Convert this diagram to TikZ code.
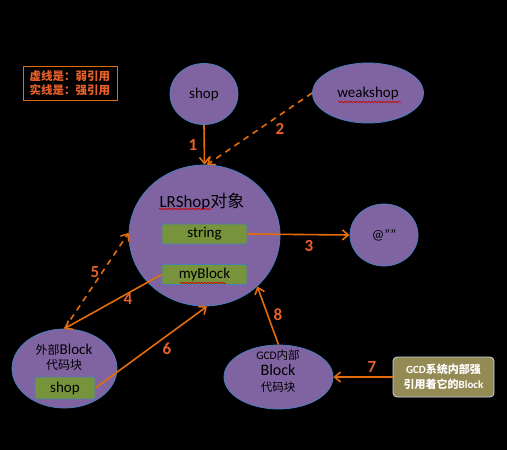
\documentclass[tikz,border=0pt]{standalone}
\usepackage{fontspec}
\setmainfont{Carlito}
\newfontfamily\cjk{Noto Sans CJK SC}
\usetikzlibrary{arrows.meta,shapes.geometric,decorations.pathmorphing}
\definecolor{purp}{HTML}{8064A2}
\definecolor{bord}{HTML}{4A7EBB}
\definecolor{grn}{HTML}{77933C}
\definecolor{org}{HTML}{E46C0A}
\definecolor{lbl}{HTML}{E8602A}
\definecolor{olivebox}{HTML}{948A54}
\definecolor{paleb}{HTML}{C9D6E8}
\tikzset{
  ell/.style={ellipse, fill=purp, draw=bord, line width=0.8pt, inner sep=0pt, text=black},
  gbox/.style={rectangle, rounded corners=2pt, fill=grn, draw=bord, line width=0.8pt, inner sep=0pt, minimum width=85pt, minimum height=20pt, font=\fontsize{15}{15}\selectfont},
  conn/.style={draw=org, line width=1.6pt, -{Straight Barb[length=6pt,width=10pt,line width=1.6pt]}},
  weak/.style={conn, dash pattern=on 6pt off 5pt},
  num/.style={text=lbl, font=\fontsize{17}{17}\selectfont\bfseries, inner sep=0pt},
  squig/.style={draw=red!80!black, line width=0.6pt, decorate, decoration={snake, amplitude=0.8pt, segment length=3pt}},
}
\begin{document}
\begin{tikzpicture}[x=1pt,y=-1pt]
\fill[black] (0,0) rectangle (507,450);
\useasboundingbox (0,0) rectangle (507,450);

% legend
\node[draw=org, line width=0.8pt, minimum width=94pt, minimum height=34pt, inner sep=0pt, align=center, text=lbl,
  font=\cjk\fontsize{11.5}{14}\selectfont\bfseries] (legend) at (70,83) {虚线是：弱引用\\实线是：强引用};

% ellipses
\node[ell, minimum width=68pt, minimum height=61pt, font=\fontsize{15}{15}\selectfont] (shop) at (204,94) {shop};
\node[ell, minimum width=111pt, minimum height=60pt, font=\fontsize{15}{15}\selectfont] (weak) at (368,93) {weakshop};
\node[ell, minimum width=151pt, minimum height=141pt] (LR) at (204.5,235.5) {};
\node[inner sep=0pt, font=\fontsize{17}{17}\selectfont] (lrlabel) at (202,202) {LRShop{\cjk 对象}};
\node[gbox] (string) at (204.5,234) {string};
\node[gbox] (myblock) at (204.5,274.5) {myBlock};
\node[ell, minimum width=68pt, minimum height=62pt, font=\fontsize{14}{14}\selectfont] (at) at (384,235) {@””};

\node[ell, minimum width=105pt, minimum height=79pt] (outer) at (64.5,368.5) {};
\node[inner sep=0pt, align=center, font=\fontsize{12}{15}\selectfont] (outerlabel) at (64,357)
  {{\cjk 外部}{\fontsize{15}{15}\selectfont Block}\\{\cjk 代码块}};
\node[gbox, minimum width=60pt, minimum height=22pt] (shopbox) at (65,388) {shop};

\node[ell, minimum width=109pt, minimum height=64pt] (gcd) at (278.5,377) {};
\node[inner sep=0pt, align=center, font=\fontsize{11.5}{16}\selectfont] (gcdlabel) at (278,371)
  {GCD{\cjk 内部}\\{\fontsize{16}{16}\selectfont Block}\\{\cjk 代码块}};

\node[rectangle, rounded corners=4pt, fill=olivebox, draw=paleb, line width=0.8pt, minimum width=101pt, minimum height=40pt,
  inner sep=0pt, align=center, text=white, font=\fontsize{11}{15}\selectfont\bfseries] (gcdsys) at (443.5,377)
  {GCD{\cjk 系统内部强}\\{\cjk 引用着它的}Block};

% spell-check squiggles
\draw[squig] (159,209) -- (211,209);
\draw[squig] (180,283) -- (226,283);
\draw[squig] (338,102) -- (401,102);

% connectors
\draw[conn] (shop.south) -- (LR.north);
\draw[weak] (weak.west) -- (LR.88);
\draw[conn] (string.east) -- (at.west);
\draw[conn] (myblock.west) -- (outer.north);
\draw[weak] (outer.north) -- (LR.178);
\draw[conn] (shopbox.east) -- (LR.-88);
\draw[conn] (gcdsys.west) -- (gcd.east);
\draw[conn] (gcd.north) -- (LR.-44);

% connector labels
\node[num] (n1) at (193,145) {1};
\node[num] (n2) at (280,129) {2};
\node[num] (n3) at (309,246) {3};
\node[num] (n4) at (128,299) {4};
\node[num] (n5) at (95,272) {5};
\node[num] (n6) at (167,349) {6};
\node[num] (n7) at (372,367) {7};
\node[num] (n8) at (278,315) {8};
\end{tikzpicture}
\end{document}
